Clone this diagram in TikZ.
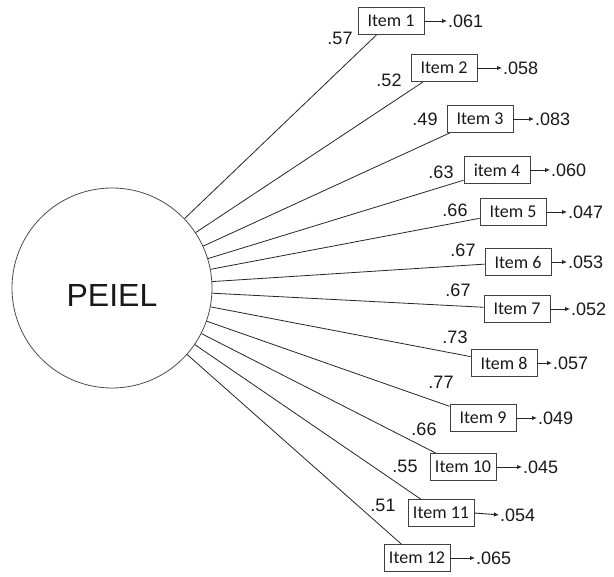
\documentclass[tikz,border=0pt]{standalone}
\usepackage{fontspec}
\setmainfont{Liberation Sans}
\newfontfamily\boxfont{Carlito}
\usetikzlibrary{arrows.meta}
\begin{document}
\begin{tikzpicture}[x=1pt,y=-1pt,
  itembox/.style={draw=black!75, line width=0.9pt, minimum width=66pt,
    minimum height=27pt, inner sep=0pt, text=black!90,
    font=\boxfont\fontsize{18}{18}\selectfont},
  loadlabel/.style={font=\fontsize{18}{18}\selectfont, inner sep=0pt, text=black!90},
  errlabel/.style={font=\fontsize{18}{18}\selectfont, inner sep=0pt, anchor=west, text=black!90},
  loadline/.style={draw=black!85, line width=0.8pt},
  errarrow/.style={-{Latex[length=5pt,width=4.5pt]}, line width=0.9pt, draw=black!85, shorten >=1pt}
]
\fill[white] (0,0) rectangle (614,577);
\useasboundingbox (0,0) rectangle (614,577);

% latent factor
\node[circle, draw=black!70, line width=0.8pt, minimum size=200pt, inner sep=0pt] (c) at (112,288) {};
\node[font=\fontsize{32}{32}\selectfont, inner sep=0pt, text=black!90] (clabel) at ([yshift=-7pt]c.center) {PEIEL};

% indicators: index / box centre / loading label / loading / error position / error / box text
\foreach \i/\bx/\by/\lx/\ly/\ld/\ex/\ey/\er/\txt in {
  1/391/21/340/38/.57/448/21/.061/Item 1,
  2/444/68/389/80/.52/503/68/.058/Item 2,
  3/480/119/425/119/.49/535/119/.083/Item 3,
  4/497/170/441/172/.63/551/170/.060/item 4,
  5/513/212/455/210/.66/568/212/.047/Item 5,
  6/518/262/463/250/.67/568/262/.053/Item 6,
  7/517/309/458/290/.67/571/309/.052/Item 7,
  8/504/363/455/337/.73/553/363/.057/Item 8,
  9/483/418/441/382/.77/538/418/.049/Item 9,
  10/463/467/424/429/.66/523/467/.045/Item 10,
  11/441/513/405/466/.55/500/515/.054/Item 11,
  12/417/558/383/505/.51/476/558/.065/Item 12}
{
  \node[itembox] (i\i) at (\bx,\by) {\txt};
  \node[loadlabel] (l\i) at (\lx,\ly) {\ld};
  \node[errlabel] (e\i) at (\ex,\ey) {\er};
  \draw[loadline] (c) -- (i\i);
  \draw[errarrow] (i\i.east) -- (e\i.west);
}
\end{tikzpicture}
\end{document}
